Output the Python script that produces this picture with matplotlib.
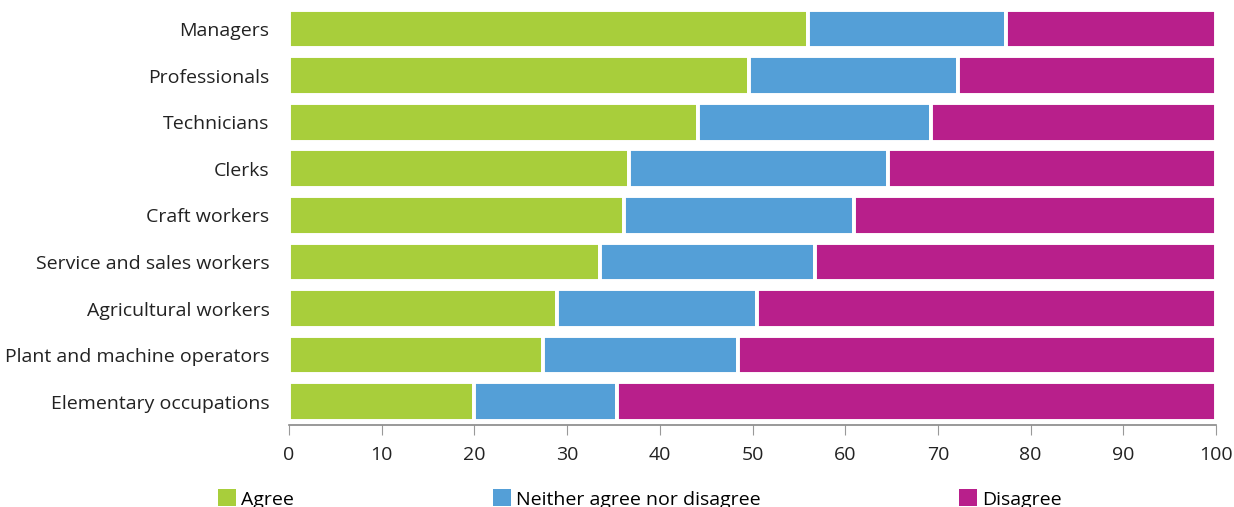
import matplotlib
matplotlib.use("Agg")
import matplotlib.pyplot as plt
import numpy as np
from matplotlib.patches import Patch

categories = ["Managers", "Professionals", "Technicians", "Clerks", "Craft workers",
              "Service and sales workers", "Agricultural workers",
              "Plant and machine operators", "Elementary occupations"]
agree = [56.0, 49.6, 44.1, 36.7, 36.1, 33.5, 28.9, 27.4, 20.0]
neither = [21.3, 22.6, 25.2, 27.9, 24.9, 23.2, 21.6, 21.0, 15.4]
disagree = [22.7, 27.8, 30.7, 35.4, 39.0, 43.3, 49.5, 51.6, 64.6]
series_names = ["Agree", "Neither agree nor disagree", "Disagree"]
colors = ["#A8CE3B", "#549FD7", "#B81F8B"]
xticks = list(range(0, 101, 10))

plt.rcParams['font.family'] = ['Open Sans', 'DejaVu Sans']

fig = plt.figure(figsize=(12.34, 5.07), dpi=100)
ax = fig.add_axes([289/1234, 1-425/507, (1216-289)/1234, (425-5.7)/507])

y = np.arange(len(categories))
left = np.zeros(len(categories))
for vals, c, name in zip([agree, neither, disagree], colors, series_names):
    ax.barh(y, vals, left=left, height=0.83, color=c, edgecolor="white",
            linewidth=2.8, label=name)
    left = left + np.array(vals)

ax.set_ylim(len(categories) - 0.5, -0.5)
ax.set_xlim(0, 100)
ax.set_yticks(y)
ax.set_yticklabels(categories, fontsize=14, color="#222222")
ax.set_xticks(xticks)
ax.set_xticklabels([str(t) for t in xticks], fontsize=14, color="#222222")
ax.tick_params(axis="y", length=0, pad=14)
ax.tick_params(axis="x", length=7, color="#999999", pad=8)
for s in ["top", "right", "left"]:
    ax.spines[s].set_visible(False)
ax.spines["bottom"].set_color("#888888")
ax.spines["bottom"].set_linewidth(1.2)

handles = [Patch(facecolor=c, edgecolor="none") for c in colors]
fig.legend(handles, series_names, loc="center left", bbox_to_anchor=(218/1234, 1-499/507),
           ncol=3, frameon=False, fontsize=14, handlelength=0.95, handleheight=0.95,
           handletextpad=0.25, columnspacing=10.2, borderpad=0, borderaxespad=0)

fig.savefig("out.png", dpi=100)
